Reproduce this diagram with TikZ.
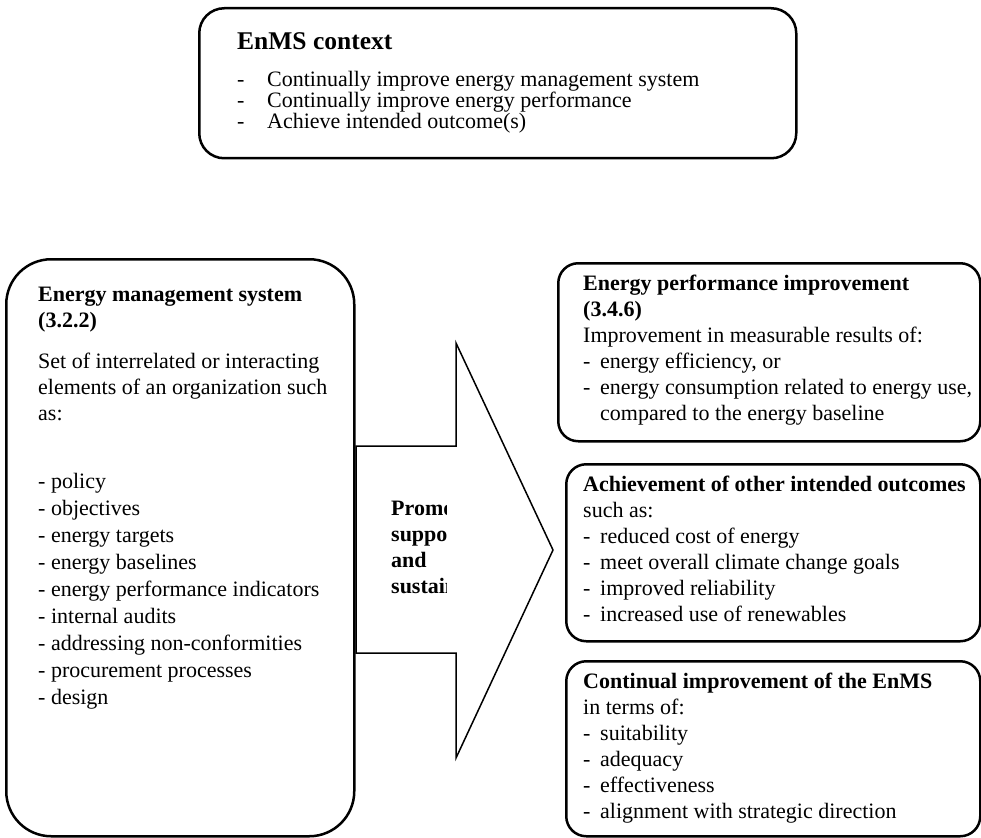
\documentclass[tikz,border=0pt]{standalone}
\usepackage{fontspec}
\setmainfont{Liberation Serif}
\usetikzlibrary{positioning,calc}

\begin{document}
\begin{tikzpicture}[x=1pt,y=1pt,line join=round,
  box/.style={draw,line width=2.5pt,rounded corners=#1,anchor=north west,inner sep=0pt},
  txt/.style={anchor=north west,inner sep=0pt,align=left,font=\fontsize{22}{26}\selectfont},
  arrowline/.style={draw,line width=1.5pt,line join=miter}]
  \useasboundingbox (0,0) rectangle (981,-837);

  % context box on top
  \node[box=25pt,minimum width=597,minimum height=150] (ctx) at (198,-7) {};
  \node[txt,font=\fontsize{25.5}{28}\selectfont\bfseries] (ctxtitle) at (237,-32) {EnMS context};
  \node[txt,font=\fontsize{22}{21}\selectfont] (ctxlist) at (237,-71)
    {\makebox[30pt][l]{-}Continually improve energy management system\\
     \makebox[30pt][l]{-}Continually improve energy performance\\
     \makebox[30pt][l]{-}Achieve intended outcome(s)};

  % energy management system
  \node[box=45pt,minimum width=348,minimum height=577] (enms) at (5,-258) {};
  \node[txt,font=\fontsize{22}{26}\selectfont\bfseries] (enmstitle) at (38,-287)
    {Energy management system\\(3.2.2)};
  \node[txt] (enmsdef) at (38,-353)
    {Set of interrelated or interacting\\elements of an organization such\\as:};
  \node[txt,font=\fontsize{22}{27}\selectfont] (enmslist) at (38,-473)
    {- policy\\- objectives\\- energy targets\\- energy baselines\\- energy performance indicators\\
     - internal audits\\- addressing non-conformities\\- procurement processes\\- design};

  % big arrow
  \draw[arrowline] (356,-446) coordinate (sl) -- (456,-446) -- (456,-343) -- (553,-550) coordinate (tip)
    -- (456,-758) -- (456,-653) -- (356,-653) -- cycle;
  \begin{scope}
    \clip (358,-440) rectangle (446.5,-660);
    \node[txt,font=\fontsize{22}{26}\selectfont\bfseries] (promo) at (391,-501)
      {Promote,\\support\\and\\sustain};
  \end{scope}

  % outcomes on the right
  \node[box=20pt,minimum width=422,minimum height=178] (epi) at (557,-262) {};
  \node[txt] (epitext) at (583,-275)
    {\textbf{Energy performance improvement}\\\textbf{(3.4.6)}\\
     Improvement in measurable results of:\\
     \makebox[17pt][l]{-}energy efficiency, or\\
     \makebox[17pt][l]{-}energy consumption related to energy use,\\
     \hspace*{17pt}compared to the energy baseline};

  \node[box=20pt,minimum width=414,minimum height=177] (other) at (565,-463) {};
  \node[txt] (othertext) at (583,-476)
    {\textbf{Achievement of other intended outcomes}\\such as:\\
     \makebox[17pt][l]{-}reduced cost of energy\\
     \makebox[17pt][l]{-}meet overall climate change goals\\
     \makebox[17pt][l]{-}improved reliability\\
     \makebox[17pt][l]{-}increased use of renewables};

  \node[box=20pt,minimum width=414,minimum height=175] (cont) at (565,-660) {};
  \node[txt] (conttext) at (583,-673)
    {\textbf{Continual improvement of the EnMS}\\in terms of:\\
     \makebox[17pt][l]{-}suitability\\
     \makebox[17pt][l]{-}adequacy\\
     \makebox[17pt][l]{-}effectiveness\\
     \makebox[17pt][l]{-}alignment with strategic direction};
\end{tikzpicture}
\end{document}
